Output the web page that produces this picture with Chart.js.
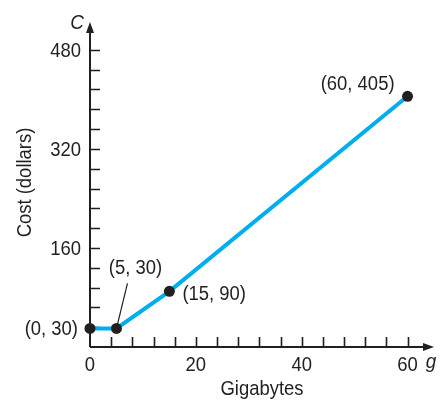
<!DOCTYPE html>
<html>
<head>
<meta charset="utf-8">
<script src="https://cdn.jsdelivr.net/npm/chart.js@4"></script>
<style>
  html, body { margin: 0; padding: 0; background: #fff; }
  #wrap { width: 443px; height: 403px; position: relative; }
</style>
</head>
<body>
<div id="wrap"><canvas id="c"></canvas></div>
<script>
// Cost of a data plan as a function of gigabytes used
const gigabytes = [0, 5, 15, 60];
const costs = [30, 30, 90, 405];

// Labelled tick values and the spacing of the small tick marks
const xTickLabels = [0, 20, 40, 60];
const yTickLabels = [160, 320, 480];
const xMinorStep = 4;
const yMinorStep = 32;

const INK = '#231f20';
const LINE = '#00aeef';
const FONT = '"Liberation Sans", Arial, sans-serif';
const TEXT = '20.5px ' + FONT;
const SQUEEZE = 0.9; // narrow the glyphs to a condensed look

// Where each point's "(x, y)" label sits relative to the point
const labelPlacement = [
  { dx: -12, dy: 1, align: 'right' },
  { dx: 19, dy: -60, align: 'center', leader: true },
  { dx: 13, dy: 3, align: 'left' },
  { dx: -13, dy: -12, align: 'right' }
];

function condensedText(ctx, text, x, y, align, angle) {
  ctx.save();
  ctx.translate(x, y);
  if (angle) ctx.rotate(angle);
  ctx.scale(SQUEEZE, 1);
  ctx.textAlign = align;
  ctx.textBaseline = 'middle';
  ctx.fillText(text, 0, 0);
  ctx.restore();
}

const axesPlugin = {
  id: 'arrowAxes',
  beforeDatasetsDraw(chart) {
    const { ctx, chartArea: a, scales: { x, y } } = chart;
    const x0 = x.getPixelForValue(0);
    const y0 = y.getPixelForValue(0);
    ctx.save();
    ctx.strokeStyle = INK;
    ctx.fillStyle = INK;
    ctx.lineWidth = 2;
    // axis lines
    ctx.beginPath();
    ctx.moveTo(x0, y0);
    ctx.lineTo(a.right - 6, y0);
    ctx.moveTo(x0, y0);
    ctx.lineTo(x0, a.top + 6);
    ctx.stroke();
    // arrow heads
    ctx.beginPath();
    ctx.moveTo(a.right, y0);
    ctx.lineTo(a.right - 11, y0 - 4);
    ctx.lineTo(a.right - 11, y0 + 4);
    ctx.closePath();
    ctx.fill();
    ctx.beginPath();
    ctx.moveTo(x0, a.top);
    ctx.lineTo(x0 - 4, a.top + 11);
    ctx.lineTo(x0 + 4, a.top + 11);
    ctx.closePath();
    ctx.fill();
    // tick marks pointing into the plot
    ctx.lineWidth = 1.6;
    ctx.beginPath();
    const xLast = xTickLabels[xTickLabels.length - 1];
    for (let v = xMinorStep; v <= xLast; v += xMinorStep) {
      const px = Math.round(x.getPixelForValue(v)) + 0.5;
      ctx.moveTo(px, y0);
      ctx.lineTo(px, y0 - 10);
    }
    const yLast = yTickLabels[yTickLabels.length - 1];
    for (let v = yMinorStep; v <= yLast; v += yMinorStep) {
      const py = Math.round(y.getPixelForValue(v)) + 0.5;
      ctx.moveTo(x0, py);
      ctx.lineTo(x0 + 10, py);
    }
    ctx.stroke();
    // tick labels
    ctx.font = TEXT;
    xTickLabels.forEach(v => condensedText(ctx, String(v), x.getPixelForValue(v), y0 + 18, 'center'));
    yTickLabels.forEach(v => condensedText(ctx, String(v), x0 - 9, y.getPixelForValue(v) + 1, 'right'));
    // axis titles
    condensedText(ctx, 'Gigabytes', (a.left + a.right) / 2, 389, 'center');
    condensedText(ctx, 'Cost (dollars)', 25, (a.top + a.bottom) / 2 - 2, 'center', -Math.PI / 2);
    // variable names at the arrow tips
    ctx.font = 'italic 21px ' + FONT;
    condensedText(ctx, 'g', a.right - 3, y0 + 15, 'center');
    condensedText(ctx, 'C', x0 - 13, a.top + 1, 'center');
    ctx.restore();
  },
  afterDatasetsDraw(chart) {
    const { ctx, scales: { x, y } } = chart;
    ctx.save();
    ctx.fillStyle = INK;
    ctx.strokeStyle = INK;
    ctx.font = TEXT;
    gigabytes.forEach((g, i) => {
      const px = x.getPixelForValue(g);
      const py = y.getPixelForValue(costs[i]);
      const p = labelPlacement[i];
      condensedText(ctx, '(' + g + ', ' + costs[i] + ')', px + p.dx, py + p.dy, p.align);
      if (p.leader) {
        ctx.lineWidth = 1.2;
        ctx.beginPath();
        ctx.moveTo(px + 1, py - 4);
        ctx.lineTo(px + 11, py - 45);
        ctx.stroke();
      }
    });
    ctx.restore();
  }
};

new Chart(document.getElementById('c'), {
  type: 'scatter',
  data: {
    datasets: [{
      data: gigabytes.map((g, i) => ({ x: g, y: costs[i] })),
      showLine: true,
      borderColor: LINE,
      borderWidth: 4,
      pointRadius: 5.5,
      pointHoverRadius: 5.5,
      pointBackgroundColor: INK,
      pointBorderWidth: 0,
      clip: false
    }]
  },
  options: {
    responsive: true,
    maintainAspectRatio: false,
    animation: false,
    events: [],
    layout: { padding: { left: 0, top: 22, right: 9, bottom: 0 } },
    plugins: { legend: { display: false }, tooltip: { enabled: false } },
    scales: {
      x: {
        type: 'linear',
        min: 0,
        max: 65,
        grid: { display: false },
        border: { display: false },
        ticks: { display: false },
        afterFit: s => { s.height = 56; }
      },
      y: {
        type: 'linear',
        min: 0,
        max: 525,
        grid: { display: false },
        border: { display: false },
        ticks: { display: false },
        afterFit: s => { s.width = 90; }
      }
    }
  },
  plugins: [axesPlugin]
});
</script>
</body>
</html>
